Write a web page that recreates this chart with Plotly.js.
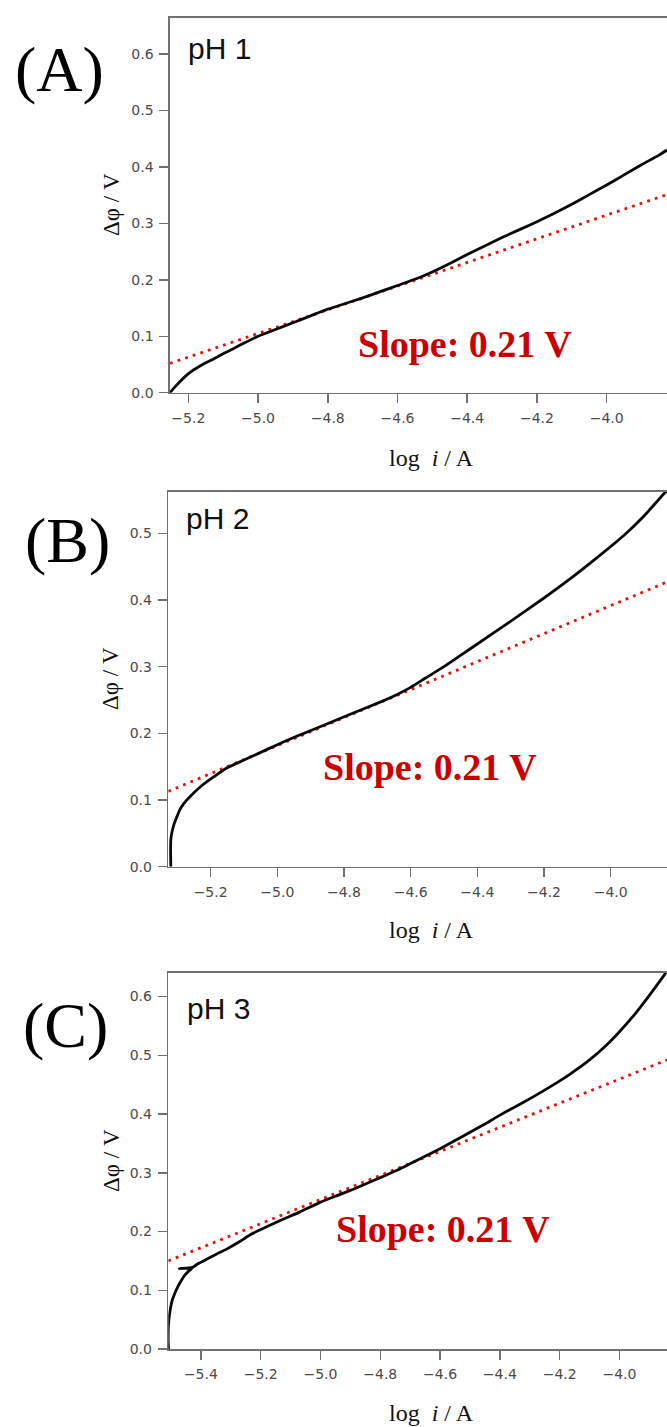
<!DOCTYPE html>
<html>
<head>
<meta charset="utf-8">
<script src="https://cdn.plot.ly/plotly-3.0.1.min.js"></script>
<style>html,body{margin:0;padding:0;background:#fff;}#chart{width:667px;height:1427px;}</style>
</head>
<body>
<div id="chart"></div>
<script>
// ---------- data ----------
const panelLabels = ["(A)", "(B)", "(C)"];
const phLabels = ["pH 1", "pH 2", "pH 3"];
const slopeLabels = ["Slope: 0.21 V", "Slope: 0.21 V", "Slope: 0.21 V"];
const xTitle = "log\u00a0\u00a0<i>i</i> / A";
const yTitle = "\u0394\u03c6 / V";

// pH 1 measured curve
const ph1_logi = [-5.2525,-5.24,-5.225,-5.21,-5.195,-5.17,-5.15,-5.13,-5.10,-5.071,-5.04,-5.0,-4.95,-4.9,-4.85,-4.8,-4.75,-4.7,-4.65,-4.6,-4.55,-4.5,-4.45,-4.4,-4.35,-4.3,-4.25,-4.2,-4.15,-4.1,-4.05,-4.0,-3.95,-3.9,-3.85,-3.827];
const ph1_dphi = [0,0.009,0.019,0.028,0.036,0.046,0.053,0.059,0.069,0.078,0.088,0.100,0.112,0.124,0.136,0.148,0.158,0.168,0.179,0.190,0.201,0.214,0.229,0.245,0.260,0.275,0.289,0.303,0.318,0.334,0.351,0.368,0.386,0.404,0.421,0.430];
// pH 1 fitted line (end points)
const ph1_fit_logi = [-5.2525, -3.827];
const ph1_fit_dphi = [0.052, 0.351];

// pH 2 measured curve
const ph2_logi = [-5.3195,-5.320,-5.3195,-5.316,-5.309,-5.302,-5.293,-5.28,-5.26,-5.228,-5.19,-5.152,-5.10,-5.065,-5.0,-4.94,-4.881,-4.794,-4.686,-4.642,-4.6,-4.555,-4.5,-4.447,-4.4,-4.306,-4.2,-4.121,-4.04,-3.958,-3.9,-3.839,-3.831];
const ph2_dphi = [0,0.020,0.040,0.052,0.065,0.074,0.085,0.095,0.106,0.121,0.135,0.148,0.160,0.168,0.183,0.196,0.208,0.226,0.248,0.258,0.269,0.283,0.300,0.318,0.334,0.366,0.403,0.432,0.464,0.498,0.526,0.560,0.564];
const ph2_fit_logi = [-5.327, -3.831];
const ph2_fit_dphi = [0.113, 0.427];

// pH 3 measured curve (with the small hook near -5.45)
const ph3_logi = [-5.508,-5.5095,-5.509,-5.507,-5.503,-5.496,-5.487,-5.477,-5.465,-5.453,-5.44,-5.43,-5.472,-5.428,-5.41,-5.387,-5.35,-5.314,-5.27,-5.229,-5.18,-5.133,-5.07,-5.0,-4.94,-4.89,-4.84,-4.794,-4.74,-4.697,-4.65,-4.6,-4.528,-4.45,-4.407,-4.35,-4.286,-4.22,-4.165,-4.1,-4.044,-4.0,-3.947,-3.9,-3.851,-3.841];
const ph3_dphi = [0,0.015,0.035,0.050,0.065,0.083,0.095,0.106,0.117,0.126,0.133,0.137,0.137,0.139,0.145,0.151,0.161,0.170,0.183,0.196,0.208,0.219,0.233,0.250,0.262,0.272,0.283,0.293,0.305,0.316,0.328,0.341,0.361,0.383,0.396,0.412,0.430,0.450,0.468,0.492,0.517,0.540,0.571,0.602,0.636,0.643];
const ph3_fit_logi = [-5.509, -3.841];
const ph3_fit_dphi = [0.150, 0.492];

// axis ranges and ticks
const xRanges = [[-5.2525, -3.827], [-5.327, -3.831], [-5.509, -3.841]];
const yRanges = [[0, 0.664], [0, 0.562], [0, 0.64]];
const xTick0 = [-5.2, -5.2, -5.4];

// ---------- layout helpers ----------
const W = 667, H = 1427;
const px = v => v / W;
const py = v => 1 - v / H;

// plot boxes in pixels: [left, top, bottom]
const boxes = [[170, 18, 392.7], [168.3, 492, 866.7], [168.3, 973, 1349]];

const curves = [[ph1_logi, ph1_dphi], [ph2_logi, ph2_dphi], [ph3_logi, ph3_dphi]];
const fits = [[ph1_fit_logi, ph1_fit_dphi], [ph2_fit_logi, ph2_fit_dphi], [ph3_fit_logi, ph3_fit_dphi]];

const axColor = '#707070';
const tickFont = {family: 'DejaVu Sans, sans-serif', size: 14, color: '#4a4a4a'};

const data = [];
const layout = {
  width: W, height: H,
  margin: {l: 0, r: 0, t: 0, b: 0},
  paper_bgcolor: '#ffffff', plot_bgcolor: '#ffffff',
  showlegend: false,
  annotations: [], shapes: []
};

for (let i = 0; i < 3; i++) {
  const sfx = i === 0 ? '' : String(i + 1);
  const xa = 'x' + sfx, ya = 'y' + sfx;
  data.push({
    x: fits[i][0], y: fits[i][1], xaxis: xa, yaxis: ya,
    mode: 'lines', line: {color: '#e3120b', width: 2.8, dash: '2.8px,5.2px'}, hoverinfo: 'skip'
  });
  data.push({
    x: curves[i][0], y: curves[i][1], xaxis: xa, yaxis: ya,
    mode: 'lines', line: {color: '#0a0a0a', width: 2.8, shape: 'spline', smoothing: 0.5}
  });
  const b = boxes[i];
  layout['xaxis' + sfx] = {
    domain: [px(b[0]), 1], range: xRanges[i], anchor: ya,
    tick0: xTick0[i], dtick: 0.2, tickformat: '.1f',
    showline: true, mirror: true, linecolor: axColor, linewidth: 1.6,
    ticks: 'outside', ticklen: 9, tickwidth: 1.5, tickcolor: axColor,
    showgrid: false, zeroline: false, tickfont: tickFont, ticklabelstandoff: 3
  };
  layout['yaxis' + sfx] = {
    domain: [py(b[2]), py(b[1])], range: yRanges[i], anchor: xa,
    tick0: 0, dtick: 0.1, tickformat: '.1f',
    showline: true, mirror: false, linecolor: axColor, linewidth: 1.6,
    ticks: 'outside', ticklen: 9, tickwidth: 1.5, tickcolor: axColor,
    showgrid: false, zeroline: false, tickfont: tickFont, ticklabelstandoff: 3
  };
}

// text positions (pixels)
const panelPos = [[59, 70], [67, 540], [65, 1025]];
const phPos = [[186, 49], [184, 519], [185, 1008]];
const slopePos = [[356, 344], [320.6, 766.7], [334.4, 1229]];
const xTitlePos = [[431, 458], [431, 930], [431, 1413]];
const yTitlePos = [[111, 205], [111, 679], [111, 1161]];

for (let i = 0; i < 3; i++) {
  layout.annotations.push({
    text: panelLabels[i], xref: 'paper', yref: 'paper',
    x: px(panelPos[i][0]), y: py(panelPos[i][1]), xanchor: 'center', yanchor: 'middle',
    showarrow: false, font: {family: 'Liberation Serif, serif', size: 64, color: '#000'}
  });
  layout.annotations.push({
    text: phLabels[i], xref: 'paper', yref: 'paper',
    x: px(phPos[i][0]), y: py(phPos[i][1]), xanchor: 'left', yanchor: 'middle',
    showarrow: false, font: {family: 'Liberation Sans, Arial, sans-serif', size: 30, color: '#111'}
  });
  layout.annotations.push({
    text: '<b>' + slopeLabels[i] + '</b>', xref: 'paper', yref: 'paper',
    x: px(slopePos[i][0]), y: py(slopePos[i][1]), xanchor: 'left', yanchor: 'middle',
    showarrow: false, font: {family: 'Liberation Serif, serif', size: 38, color: '#cc0000'}
  });
  layout.annotations.push({
    text: xTitle, xref: 'paper', yref: 'paper',
    x: px(xTitlePos[i][0]), y: py(xTitlePos[i][1]), xanchor: 'center', yanchor: 'middle',
    showarrow: false, font: {family: 'Liberation Serif, serif', size: 24, color: '#111'}
  });
  layout.annotations.push({
    text: yTitle, xref: 'paper', yref: 'paper', textangle: -90,
    x: px(yTitlePos[i][0]), y: py(yTitlePos[i][1]), xanchor: 'center', yanchor: 'middle',
    showarrow: false, font: {family: 'Liberation Serif, serif', size: 23, color: '#111'}
  });
}

Plotly.newPlot('chart', data, layout, {staticPlot: true, displayModeBar: false});
</script>
</body>
</html>
